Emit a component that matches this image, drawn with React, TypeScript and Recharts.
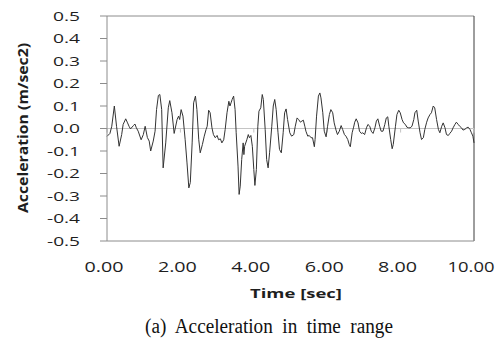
import React from "react";
import { LineChart, Line, XAxis, YAxis, ReferenceLine } from "recharts";

const timeSec = [
  0.0, 0.08, 0.13, 0.2, 0.26, 0.33, 0.4, 0.44, 0.51, 0.56, 0.6, 0.64, 0.72, 0.76, 0.8, 0.85, 0.93, 0.99,
  1.04, 1.1, 1.15, 1.19, 1.26, 1.31, 1.35, 1.4, 1.44, 1.49, 1.53, 1.6, 1.67, 1.71, 1.77, 1.83, 1.91, 1.95, 1.98,
  2.02, 2.07, 2.13, 2.18, 2.23, 2.27, 2.32, 2.36, 2.41, 2.45, 2.5, 2.54, 2.6, 2.65, 2.7, 2.73, 2.77, 2.81, 2.86,
  2.9, 2.95, 3.0, 3.04, 3.09, 3.13, 3.18, 3.22, 3.27, 3.32, 3.35, 3.38, 3.41, 3.45, 3.49, 3.52, 3.57, 3.6, 3.63,
  3.67, 3.71, 3.73, 3.75, 3.81, 3.85, 3.88, 3.92, 3.96, 4.0, 4.03, 4.07, 4.11, 4.14, 4.19, 4.23, 4.26, 4.31,
  4.35, 4.39, 4.43, 4.49, 4.53, 4.57, 4.61, 4.66, 4.7, 4.75, 4.8, 4.84, 4.88, 4.92, 4.98, 5.03, 5.09, 5.13,
  5.18, 5.22, 5.27, 5.31, 5.35, 5.39, 5.42, 5.47, 5.51, 5.56, 5.6, 5.65, 5.67, 5.71, 5.76, 5.8, 5.83, 5.88,
  5.92, 5.97, 6.01, 6.06, 6.1, 6.15, 6.19, 6.24, 6.28, 6.33, 6.38, 6.42, 6.47, 6.51, 6.56, 6.6, 6.63, 6.68,
  6.72, 6.75, 6.79, 6.84, 6.88, 6.93, 6.97, 7.02, 7.07, 7.11, 7.16, 7.2, 7.25, 7.3, 7.34, 7.38, 7.43, 7.47,
  7.52, 7.57, 7.61, 7.65, 7.68, 7.73, 7.77, 7.8, 7.86, 7.9, 7.95, 7.99, 8.04, 8.08, 8.13, 8.17, 8.22, 8.26,
  8.31, 8.36, 8.39, 8.44, 8.48, 8.53, 8.57, 8.62, 8.66, 8.71, 8.75, 8.8, 8.84, 8.89, 8.93, 8.98, 9.03, 9.07,
  9.12, 9.16, 9.21, 9.25, 9.3, 9.34, 9.39, 9.43, 9.48, 9.52, 9.57, 9.61, 9.66, 9.7, 9.75, 9.8, 9.84, 9.89,
  9.93, 9.97, 10.0,
];

const accel = [
  -0.035, -0.022, 0.01, 0.1, 0.01, -0.079, -0.027, 0.018, 0.043, 0.025, 0.01, -0.002, 0.013, 0.02, 0.003, -0.012, -0.05, -0.027,
  0.01, -0.04, -0.056, -0.1, -0.056, -0.012, 0.084, 0.147, 0.151, 0.084, -0.175, -0.064, 0.092, 0.124, 0.07, -0.022, 0.04, 0.055, 0.04,
  0.084, 0.055, -0.05, -0.153, -0.264, -0.24, -0.064, 0.114, 0.144, 0.084, -0.05, -0.108, -0.071, -0.034, -0.004, 0.01, 0.081, 0.07, 0.003,
  -0.027, -0.041, -0.031, -0.05, -0.046, -0.064, -0.05, -0.004, 0.07, 0.121, 0.1, 0.114, 0.129, 0.144, 0.084, -0.019, -0.167, -0.293, -0.256,
  -0.138, -0.064, -0.116, -0.079, -0.05, -0.027, -0.041, -0.031, -0.079, -0.182, -0.253, -0.182, 0.01, 0.077, 0.092, 0.151, 0.129, -0.004,
  -0.138, -0.175, -0.108, 0.01, 0.1, 0.129, 0.084, -0.019, -0.093, -0.108, -0.019, 0.07, 0.087, 0.04, -0.019, -0.034, -0.027, 0.01,
  0.047, 0.04, 0.028, 0.033, 0.037, 0.01, -0.012, -0.034, -0.031, -0.041, -0.041, -0.081, -0.049, 0.055, 0.144, 0.158, 0.136, 0.07,
  -0.012, -0.037, 0.01, 0.062, 0.084, 0.07, 0.025, -0.007, -0.027, -0.012, 0.013, -0.004, -0.027, -0.034, -0.049, -0.071, -0.081, -0.019,
  0.006, 0.028, 0.043, 0.025, -0.012, -0.022, -0.019, -0.027, 0.003, 0.018, 0.01, -0.012, -0.022, 0.003, 0.033, 0.043, 0.01, -0.012,
  -0.012, 0.018, 0.047, 0.052, 0.01, -0.049, -0.09, -0.071, 0.01, 0.062, 0.081, 0.07, 0.04, 0.025, 0.018, 0.006, 0.003, 0.003,
  0.01, 0.04, 0.07, 0.081, 0.033, -0.019, -0.049, -0.041, -0.004, 0.028, 0.047, 0.062, 0.07, 0.1, 0.092, 0.04, -0.004, -0.019,
  0.01, 0.025, 0.003, -0.027, -0.031, -0.022, -0.012, 0.003, 0.018, 0.028, 0.018, 0.01, 0.003, -0.007, -0.004, 0.003, 0.006, -0.004,
  -0.019, -0.034, -0.064,
];

const xTicks = [0, 2, 4, 6, 8, 10];
const yTicks = [-0.5, -0.4, -0.3, -0.2, -0.1, 0, 0.1, 0.2, 0.3, 0.4, 0.5];

const xTitle = "Time [sec]";
const yTitle = "Acceleration (m/sec2)";
const caption = "(a) Acceleration in time range";

const data = timeSec.map((t, i) => ({ t, a: accel[i] }));

const SANS = "'Open Sans', 'DejaVu Sans', sans-serif";
const AXIS = "#8c8c8c";
const TEXT = "#1e1e1e";

const XTick = (props: any) => {
  const { x, payload } = props;
  const label = Number(payload.value).toFixed(2);
  const w = label.length > 4 ? 47 : 39;
  return (
    <text
      x={x - 3 - w / 2}
      y={272}
      fontFamily={SANS}
      fontSize={14}
      fill={TEXT}
      textLength={w}
      lengthAdjust="spacingAndGlyphs"
    >
      {label}
    </text>
  );
};

const YTick = (props: any) => {
  const { y, payload } = props;
  const v = Number(payload.value);
  const label = Math.abs(v) < 1e-9 ? "0.0" : v.toFixed(1);
  const w = label.startsWith("-") ? 33 : 27;
  return (
    <text
      x={80 - w}
      y={y + 4.8}
      fontFamily={SANS}
      fontSize={13.5}
      fill={TEXT}
      textLength={w}
      lengthAdjust="spacingAndGlyphs"
    >
      {label}
    </text>
  );
};

const XTitle = () => (
  <g>
    <text
      x={250}
      y={297.5}
      fontFamily={SANS}
      fontSize={13}
      fontWeight="bold"
      fill={TEXT}
      textLength={92}
      lengthAdjust="spacingAndGlyphs"
    >
      {xTitle}
    </text>
    <text
      x={145}
      y={333}
      fontFamily="'Liberation Serif', 'Times New Roman', serif"
      fontSize={20.5}
      fill="#111"
      style={{ wordSpacing: "5px" }}
      textLength={248}
      lengthAdjust="spacingAndGlyphs"
    >
      {caption}
    </text>
  </g>
);

const YTitle = () => (
  <text
    transform="translate(28,213) rotate(-90)"
    x={0}
    y={0}
    fontFamily={SANS}
    fontSize={15}
    fontWeight="bold"
    fill={TEXT}
    textLength={170}
    lengthAdjust="spacingAndGlyphs"
  >
    {yTitle}
  </text>
);

export default function App() {
  return (
    <div style={{ position: "absolute", left: 0, top: 0, width: 503, height: 343, background: "#fff" }}>
      <LineChart width={503} height={343} data={data} margin={{ top: 16, right: 29, left: 0, bottom: 0 }}>
        <XAxis
          dataKey="t"
          type="number"
          domain={[0, 10]}
          ticks={xTicks}
          height={102}
          axisLine={{ stroke: AXIS }}
          tickLine={false}
          tick={<XTick />}
          label={<XTitle />}
          interval={0}
        />
        <YAxis
          type="number"
          domain={[-0.5, 0.5]}
          ticks={yTicks}
          width={107}
          axisLine={{ stroke: AXIS }}
          tickLine={{ stroke: AXIS }}
          tickSize={7}
          tick={<YTick />}
          label={<YTitle />}
          interval={0}
        />
        <ReferenceLine y={0.5} stroke={AXIS} />
        <ReferenceLine x={10} stroke="#3c3c3c" />
        <ReferenceLine y={0} stroke="#c4c4c4" />
        {xTicks.map((t) => (
          <ReferenceLine
            key={t}
            segment={[
              { x: t, y: 0 },
              { x: t, y: -0.018 },
            ]}
            stroke="#c4c4c4"
          />
        ))}
        <Line
          dataKey="a"
          type="linear"
          stroke="#333"
          strokeWidth={1}
          dot={false}
          isAnimationActive={false}
        />
      </LineChart>
    </div>
  );
}
